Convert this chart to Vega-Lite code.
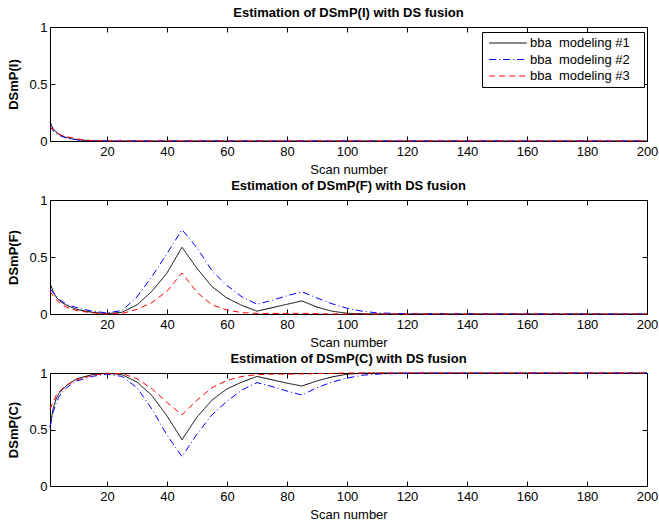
{
"$schema": "https://vega.github.io/schema/vega-lite/v6.json",
"background": "white",
"padding": {"top": 6, "left": 7, "right": 0, "bottom": 0},
"spacing": 2,
"datasets": {"d": [
{"p":"I","s":"1","x":1,"v":0.17},{"p":"I","s":"1","x":2,"v":0.11},{"p":"I","s":"1","x":3,"v":0.08},{"p":"I","s":"1","x":4,"v":0.06},{"p":"I","s":"1","x":5,"v":0.045},{"p":"I","s":"1","x":6,"v":0.035},{"p":"I","s":"1","x":8,"v":0.02},{"p":"I","s":"1","x":10,"v":0.012},{"p":"I","s":"1","x":12,"v":0.007},{"p":"I","s":"1","x":15,"v":0.003},{"p":"I","s":"1","x":20,"v":0},{"p":"I","s":"1","x":200,"v":0},
{"p":"I","s":"2","x":1,"v":0.13},{"p":"I","s":"2","x":2,"v":0.09},{"p":"I","s":"2","x":3,"v":0.065},{"p":"I","s":"2","x":4,"v":0.05},{"p":"I","s":"2","x":5,"v":0.04},{"p":"I","s":"2","x":6,"v":0.03},{"p":"I","s":"2","x":8,"v":0.018},{"p":"I","s":"2","x":10,"v":0.01},{"p":"I","s":"2","x":12,"v":0.006},{"p":"I","s":"2","x":15,"v":0.002},{"p":"I","s":"2","x":20,"v":0},{"p":"I","s":"2","x":200,"v":0},
{"p":"I","s":"3","x":1,"v":0.12},{"p":"I","s":"3","x":2,"v":0.105},{"p":"I","s":"3","x":3,"v":0.08},{"p":"I","s":"3","x":4,"v":0.06},{"p":"I","s":"3","x":5,"v":0.05},{"p":"I","s":"3","x":6,"v":0.04},{"p":"I","s":"3","x":8,"v":0.03},{"p":"I","s":"3","x":10,"v":0.018},{"p":"I","s":"3","x":12,"v":0.01},{"p":"I","s":"3","x":15,"v":0.004},{"p":"I","s":"3","x":20,"v":0},{"p":"I","s":"3","x":200,"v":0},
{"p":"F","s":"1","x":1,"v":0.27},{"p":"F","s":"1","x":2,"v":0.2},{"p":"F","s":"1","x":3,"v":0.15},{"p":"F","s":"1","x":4,"v":0.12},{"p":"F","s":"1","x":5,"v":0.1},{"p":"F","s":"1","x":7,"v":0.07},{"p":"F","s":"1","x":10,"v":0.04},{"p":"F","s":"1","x":15,"v":0.015},{"p":"F","s":"1","x":20,"v":0.003},{"p":"F","s":"1","x":25,"v":0.015},{"p":"F","s":"1","x":30,"v":0.08},{"p":"F","s":"1","x":35,"v":0.2},{"p":"F","s":"1","x":40,"v":0.36},{"p":"F","s":"1","x":45,"v":0.585},{"p":"F","s":"1","x":50,"v":0.4},{"p":"F","s":"1","x":55,"v":0.24},{"p":"F","s":"1","x":60,"v":0.14},{"p":"F","s":"1","x":65,"v":0.075},{"p":"F","s":"1","x":70,"v":0.025},{"p":"F","s":"1","x":75,"v":0.055},{"p":"F","s":"1","x":80,"v":0.085},{"p":"F","s":"1","x":85,"v":0.115},{"p":"F","s":"1","x":90,"v":0.06},{"p":"F","s":"1","x":95,"v":0.025},{"p":"F","s":"1","x":100,"v":0.006},{"p":"F","s":"1","x":105,"v":0.002},{"p":"F","s":"1","x":110,"v":0},{"p":"F","s":"1","x":120,"v":0},{"p":"F","s":"1","x":200,"v":0},
{"p":"F","s":"2","x":1,"v":0.22},{"p":"F","s":"2","x":2,"v":0.19},{"p":"F","s":"2","x":3,"v":0.16},{"p":"F","s":"2","x":4,"v":0.13},{"p":"F","s":"2","x":5,"v":0.11},{"p":"F","s":"2","x":7,"v":0.08},{"p":"F","s":"2","x":10,"v":0.055},{"p":"F","s":"2","x":15,"v":0.025},{"p":"F","s":"2","x":20,"v":0.01},{"p":"F","s":"2","x":25,"v":0.03},{"p":"F","s":"2","x":30,"v":0.15},{"p":"F","s":"2","x":35,"v":0.33},{"p":"F","s":"2","x":40,"v":0.53},{"p":"F","s":"2","x":45,"v":0.74},{"p":"F","s":"2","x":50,"v":0.58},{"p":"F","s":"2","x":55,"v":0.38},{"p":"F","s":"2","x":60,"v":0.25},{"p":"F","s":"2","x":65,"v":0.15},{"p":"F","s":"2","x":70,"v":0.085},{"p":"F","s":"2","x":75,"v":0.12},{"p":"F","s":"2","x":80,"v":0.16},{"p":"F","s":"2","x":85,"v":0.195},{"p":"F","s":"2","x":90,"v":0.14},{"p":"F","s":"2","x":95,"v":0.09},{"p":"F","s":"2","x":100,"v":0.05},{"p":"F","s":"2","x":105,"v":0.025},{"p":"F","s":"2","x":110,"v":0.01},{"p":"F","s":"2","x":120,"v":0.002},{"p":"F","s":"2","x":200,"v":0},
{"p":"F","s":"3","x":1,"v":0.2},{"p":"F","s":"3","x":2,"v":0.16},{"p":"F","s":"3","x":3,"v":0.13},{"p":"F","s":"3","x":4,"v":0.1},{"p":"F","s":"3","x":5,"v":0.08},{"p":"F","s":"3","x":7,"v":0.055},{"p":"F","s":"3","x":10,"v":0.03},{"p":"F","s":"3","x":15,"v":0.01},{"p":"F","s":"3","x":20,"v":0},{"p":"F","s":"3","x":25,"v":0.005},{"p":"F","s":"3","x":30,"v":0.04},{"p":"F","s":"3","x":35,"v":0.1},{"p":"F","s":"3","x":40,"v":0.2},{"p":"F","s":"3","x":45,"v":0.36},{"p":"F","s":"3","x":50,"v":0.19},{"p":"F","s":"3","x":55,"v":0.08},{"p":"F","s":"3","x":60,"v":0.035},{"p":"F","s":"3","x":65,"v":0.012},{"p":"F","s":"3","x":70,"v":0.005},{"p":"F","s":"3","x":75,"v":0.005},{"p":"F","s":"3","x":80,"v":0.005},{"p":"F","s":"3","x":85,"v":0.006},{"p":"F","s":"3","x":90,"v":0.003},{"p":"F","s":"3","x":95,"v":0.001},{"p":"F","s":"3","x":100,"v":0},{"p":"F","s":"3","x":105,"v":0},{"p":"F","s":"3","x":110,"v":0},{"p":"F","s":"3","x":120,"v":0},{"p":"F","s":"3","x":200,"v":0},
{"p":"C","s":"1","x":1,"v":0.52},{"p":"C","s":"1","x":2,"v":0.68},{"p":"C","s":"1","x":3,"v":0.77},{"p":"C","s":"1","x":4,"v":0.82},{"p":"C","s":"1","x":5,"v":0.85},{"p":"C","s":"1","x":7,"v":0.9},{"p":"C","s":"1","x":10,"v":0.95},{"p":"C","s":"1","x":15,"v":0.985},{"p":"C","s":"1","x":20,"v":0.998},{"p":"C","s":"1","x":25,"v":0.985},{"p":"C","s":"1","x":30,"v":0.92},{"p":"C","s":"1","x":35,"v":0.8},{"p":"C","s":"1","x":40,"v":0.62},{"p":"C","s":"1","x":45,"v":0.41},{"p":"C","s":"1","x":50,"v":0.61},{"p":"C","s":"1","x":55,"v":0.76},{"p":"C","s":"1","x":60,"v":0.86},{"p":"C","s":"1","x":65,"v":0.92},{"p":"C","s":"1","x":70,"v":0.97},{"p":"C","s":"1","x":75,"v":0.94},{"p":"C","s":"1","x":80,"v":0.91},{"p":"C","s":"1","x":85,"v":0.885},{"p":"C","s":"1","x":90,"v":0.93},{"p":"C","s":"1","x":95,"v":0.965},{"p":"C","s":"1","x":100,"v":0.99},{"p":"C","s":"1","x":105,"v":0.998},{"p":"C","s":"1","x":110,"v":1},{"p":"C","s":"1","x":120,"v":1},{"p":"C","s":"1","x":200,"v":1},
{"p":"C","s":"2","x":1,"v":0.52},{"p":"C","s":"2","x":2,"v":0.65},{"p":"C","s":"2","x":3,"v":0.73},{"p":"C","s":"2","x":4,"v":0.79},{"p":"C","s":"2","x":5,"v":0.83},{"p":"C","s":"2","x":7,"v":0.88},{"p":"C","s":"2","x":10,"v":0.93},{"p":"C","s":"2","x":15,"v":0.97},{"p":"C","s":"2","x":20,"v":0.99},{"p":"C","s":"2","x":25,"v":0.97},{"p":"C","s":"2","x":30,"v":0.87},{"p":"C","s":"2","x":35,"v":0.68},{"p":"C","s":"2","x":40,"v":0.45},{"p":"C","s":"2","x":45,"v":0.26},{"p":"C","s":"2","x":50,"v":0.46},{"p":"C","s":"2","x":55,"v":0.63},{"p":"C","s":"2","x":60,"v":0.75},{"p":"C","s":"2","x":65,"v":0.85},{"p":"C","s":"2","x":70,"v":0.915},{"p":"C","s":"2","x":75,"v":0.88},{"p":"C","s":"2","x":80,"v":0.84},{"p":"C","s":"2","x":85,"v":0.805},{"p":"C","s":"2","x":90,"v":0.87},{"p":"C","s":"2","x":95,"v":0.92},{"p":"C","s":"2","x":100,"v":0.955},{"p":"C","s":"2","x":105,"v":0.98},{"p":"C","s":"2","x":110,"v":0.99},{"p":"C","s":"2","x":120,"v":0.998},{"p":"C","s":"2","x":200,"v":1},
{"p":"C","s":"3","x":1,"v":0.68},{"p":"C","s":"3","x":2,"v":0.74},{"p":"C","s":"3","x":3,"v":0.8},{"p":"C","s":"3","x":4,"v":0.83},{"p":"C","s":"3","x":5,"v":0.86},{"p":"C","s":"3","x":7,"v":0.9},{"p":"C","s":"3","x":10,"v":0.94},{"p":"C","s":"3","x":15,"v":0.98},{"p":"C","s":"3","x":20,"v":0.997},{"p":"C","s":"3","x":25,"v":0.995},{"p":"C","s":"3","x":30,"v":0.95},{"p":"C","s":"3","x":35,"v":0.86},{"p":"C","s":"3","x":40,"v":0.74},{"p":"C","s":"3","x":45,"v":0.63},{"p":"C","s":"3","x":50,"v":0.76},{"p":"C","s":"3","x":55,"v":0.87},{"p":"C","s":"3","x":60,"v":0.935},{"p":"C","s":"3","x":65,"v":0.97},{"p":"C","s":"3","x":70,"v":0.985},{"p":"C","s":"3","x":75,"v":0.99},{"p":"C","s":"3","x":80,"v":0.99},{"p":"C","s":"3","x":85,"v":0.992},{"p":"C","s":"3","x":90,"v":0.995},{"p":"C","s":"3","x":95,"v":0.997},{"p":"C","s":"3","x":100,"v":1},{"p":"C","s":"3","x":105,"v":1},{"p":"C","s":"3","x":110,"v":1},{"p":"C","s":"3","x":120,"v":1},{"p":"C","s":"3","x":200,"v":1}
]},
"data": {"name": "d"},
"resolve": {"scale": {"color": "independent", "strokeDash": "independent"}, "legend": {"color": "independent", "strokeDash": "independent"}},
"vconcat": [
{
 "width": 597, "height": 114,
 "title": "Estimation of DSmP(I) with DS fusion",
 "transform": [{"filter": "datum.p === 'I'"}],
 "layer": [
  {"mark": {"type": "line", "strokeWidth": 1},
   "encoding": {
    "x": {"field": "x", "type": "quantitative", "scale": {"domain": [1, 200], "nice": false, "zero": false}, "axis": {"values": [20,40,60,80,100,120,140,160,180,200], "title": "Scan number"}},
    "y": {"field": "v", "type": "quantitative", "scale": {"domain": [0, 1], "nice": false}, "axis": {"values": [0, 0.5, 1], "format": "~g", "title": "DSmP(I)"}},
    "color": {"field": "s", "type": "nominal", "scale": {"domain": ["1","2","3"], "range": ["#000000","#0000ff","#ff0000"]},
      "legend": {"orient": "none", "legendX": 432, "legendY": 5, "title": null, "symbolType": "M-2.9,0H2.9", "symbolSize": 169, "symbolStrokeWidth": 1, "symbolOffset": 15, "labelOffset": 15, "labelFontSize": 13, "labelFont": "Liberation Sans", "labelColor": "black", "labelExpr": "'bba\u00a0\u00a0modeling #' + datum.label + '\u00a0\u00a0\u2009\u200b'", "strokeColor": "black", "fillColor": "white", "padding": 4, "rowPadding": 2.5}},
    "strokeDash": {"field": "s", "type": "nominal", "scale": {"domain": ["1","2","3"], "range": [[1,0],[7,3,1,3],[6,4]]},
      "legend": {"orient": "none", "legendX": 432, "legendY": 5, "title": null, "symbolType": "M-2.9,0H2.9", "symbolSize": 169, "symbolStrokeWidth": 1, "symbolOffset": 15, "labelOffset": 15, "labelFontSize": 13, "labelFont": "Liberation Sans", "labelColor": "black", "labelExpr": "'bba\u00a0\u00a0modeling #' + datum.label + '\u00a0\u00a0\u2009\u200b'", "strokeColor": "black", "fillColor": "white", "padding": 4, "rowPadding": 2.5}}
   }},
  {"mark": {"type": "line", "opacity": 0},
   "encoding": {
    "x": {"field": "x", "type": "quantitative", "scale": {"domain": [1, 200], "nice": false, "zero": false}, "axis": {"orient": "top", "values": [20,40,60,80,100,120,140,160,180,200], "labels": false, "title": null}},
    "y": {"field": "v", "type": "quantitative", "scale": {"domain": [0, 1], "nice": false}, "axis": {"orient": "right", "values": [0, 0.5, 1], "labels": false, "title": null}}
   }}
 ],
 "resolve": {"axis": {"x": "independent", "y": "independent"}}
},
{
 "width": 597, "height": 114,
 "title": "Estimation of DSmP(F) with DS fusion",
 "transform": [{"filter": "datum.p === 'F'"}],
 "layer": [
  {"mark": {"type": "line", "strokeWidth": 1},
   "encoding": {
    "x": {"field": "x", "type": "quantitative", "scale": {"domain": [1, 200], "nice": false, "zero": false}, "axis": {"values": [20,40,60,80,100,120,140,160,180,200], "title": "Scan number"}},
    "y": {"field": "v", "type": "quantitative", "scale": {"domain": [0, 1], "nice": false}, "axis": {"values": [0, 0.5, 1], "format": "~g", "title": "DSmP(F)"}},
    "color": {"field": "s", "type": "nominal", "scale": {"domain": ["1","2","3"], "range": ["#000000","#0000ff","#ff0000"]}, "legend": null},
    "strokeDash": {"field": "s", "type": "nominal", "scale": {"domain": ["1","2","3"], "range": [[1,0],[7,3,1,3],[6,4]]}, "legend": null}
   }},
  {"mark": {"type": "line", "opacity": 0},
   "encoding": {
    "x": {"field": "x", "type": "quantitative", "scale": {"domain": [1, 200], "nice": false, "zero": false}, "axis": {"orient": "top", "values": [20,40,60,80,100,120,140,160,180,200], "labels": false, "title": null}},
    "y": {"field": "v", "type": "quantitative", "scale": {"domain": [0, 1], "nice": false}, "axis": {"orient": "right", "values": [0, 0.5, 1], "labels": false, "title": null}}
   }}
 ],
 "resolve": {"axis": {"x": "independent", "y": "independent"}}
},
{
 "width": 597, "height": 113,
 "title": "Estimation of DSmP(C) with DS fusion",
 "transform": [{"filter": "datum.p === 'C'"}],
 "layer": [
  {"mark": {"type": "line", "strokeWidth": 1},
   "encoding": {
    "x": {"field": "x", "type": "quantitative", "scale": {"domain": [1, 200], "nice": false, "zero": false}, "axis": {"values": [20,40,60,80,100,120,140,160,180,200], "title": "Scan number"}},
    "y": {"field": "v", "type": "quantitative", "scale": {"domain": [0, 1], "nice": false}, "axis": {"values": [0, 0.5, 1], "format": "~g", "title": "DSmP(C)"}},
    "color": {"field": "s", "type": "nominal", "scale": {"domain": ["1","2","3"], "range": ["#000000","#0000ff","#ff0000"]}, "legend": null},
    "strokeDash": {"field": "s", "type": "nominal", "scale": {"domain": ["1","2","3"], "range": [[1,0],[7,3,1,3],[6,4]]}, "legend": null}
   }},
  {"mark": {"type": "line", "opacity": 0},
   "encoding": {
    "x": {"field": "x", "type": "quantitative", "scale": {"domain": [1, 200], "nice": false, "zero": false}, "axis": {"orient": "top", "values": [20,40,60,80,100,120,140,160,180,200], "labels": false, "title": null}},
    "y": {"field": "v", "type": "quantitative", "scale": {"domain": [0, 1], "nice": false}, "axis": {"orient": "right", "values": [0, 0.5, 1], "labels": false, "title": null}}
   }}
 ],
 "resolve": {"axis": {"x": "independent", "y": "independent"}}
}
],
"config": {
 "font": "Liberation Sans",
 "view": {"stroke": "black", "strokeWidth": 1},
 "axis": {"domain": false, "grid": false, "tickSize": -5, "tickColor": "black", "tickWidth": 1, "labelFont": "Liberation Sans", "labelFontSize": 13, "labelColor": "black", "labelFlush": false, "labelOverlap": false, "titleFont": "Liberation Sans", "titleFontSize": 13, "titleColor": "black"},
 "axisX": {"labelPadding": 9, "titlePadding": 5, "titleFontWeight": "normal"},
 "axisY": {"labelPadding": 8, "titlePadding": 8, "titleFontWeight": "bold"},
 "title": {"font": "Liberation Sans", "fontSize": 13, "fontWeight": "bold", "color": "black", "anchor": "middle", "offset": 1}
}
}
